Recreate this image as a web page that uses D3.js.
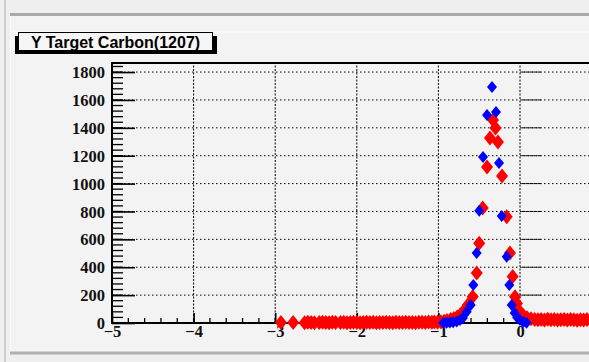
<!DOCTYPE html>
<html><head><meta charset="utf-8">
<script src="https://cdn.jsdelivr.net/npm/d3@7"></script>
<style>html,body{margin:0;padding:0;background:#efefef;overflow:hidden}</style>
</head><body><svg id="c" width="589" height="362"></svg>
<script>
const title = "Y Target Carbon(1207)";
const xTickValues = [-5, -4, -3, -2, -1, 0];
const yTickValues = [0, 200, 400, 600, 800, 1000, 1200, 1400, 1600, 1800];

// red series: left tail, peak, right tail
const redLeftX = [-2.93,-2.78,-2.64,-2.60,-2.56,-2.52,-2.46,-2.42,-2.38,-2.34,-2.30,-2.26,-2.20,-2.16,-2.12,-2.08,-2.04,-2.00,-1.96,-1.92,-1.88,-1.84,-1.80,-1.76,-1.72,-1.68,-1.64,-1.60,-1.56,-1.52,-1.48,-1.44,-1.40,-1.36,-1.32,-1.28,-1.24,-1.20,-1.16,-1.12,-1.08,-1.05];
const redLeftY = [3,4,2,5,3,2,4,6,3,2,5,4,3,6,2,4,5,3,2,4,6,3,5,2,4,3,5,4,2,6,3,4,5,3,4,2,5,6,4,7,5,8];
const redPeakX = [-1.01,-0.97,-0.93,-0.895,-0.85,-0.81,-0.77,-0.73,-0.70,-0.64,-0.58,-0.53,-0.50,-0.457,-0.404,-0.368,-0.331,-0.30,-0.27,-0.22,-0.163,-0.123,-0.09,-0.061,-0.037,0.0,0.037,0.086,0.135];
const redPeakY = [6,9,12,18,25,32,43,60,79,129,189,359,572,825,1119,1327,1456,1399,1298,1054,762,502,333,189,140,80,55,38,30];
const redRightX = [0.18,0.22,0.26,0.30,0.34,0.38,0.42,0.46,0.50,0.54,0.58,0.62,0.66,0.70,0.74,0.78,0.82,0.86];
const redRightY = [26,24,25,22,27,23,25,21,24,26,22,25,23,20,24,22,25,23];

// blue series
const blueX = [-0.94,-0.90,-0.86,-0.82,-0.776,-0.735,-0.70,-0.653,-0.604,-0.572,-0.531,-0.499,-0.453,-0.404,-0.343,-0.294,-0.257,-0.224,-0.163,-0.131,-0.102,-0.065,-0.035,0.0,0.04,0.08];
const blueY = [1,2,3,5,10,22,36,80,129,273,502,805,1190,1492,1693,1514,1148,768,476,273,129,72,40,22,8,2];

const svg = d3.select("#c");
// window decoration
svg.append("rect").attr("x",10).attr("y",16).attr("width",579).attr("height",336).attr("fill","#f3f3f3");
svg.append("line").attr("x1",5).attr("x2",5).attr("y1",0).attr("y2",362).attr("stroke","#cfcfcf").attr("stroke-width",2);
svg.append("line").attr("x1",10.5).attr("x2",10.5).attr("y1",16).attr("y2",352).attr("stroke","#fafafa").attr("stroke-width",1);
svg.append("line").attr("x1",10).attr("x2",589).attr("y1",14.5).attr("y2",14.5).attr("stroke","#a9a9a9").attr("stroke-width",3);
svg.append("line").attr("x1",12).attr("x2",589).attr("y1",32).attr("y2",32).attr("stroke","#ffffff").attr("stroke-width",1);
svg.append("line").attr("x1",10).attr("x2",589).attr("y1",353).attr("y2",353).attr("stroke","#b0b0b0").attr("stroke-width",3);

const x = d3.scaleLinear().domain([-5, 5]).range([112, 928]);
const y = d3.scaleLinear().domain([0, 1865]).range([323, 63]);

const plot = svg.append("g");
// grid
plot.selectAll(".hg").data(yTickValues.filter(d=>d>0)).enter().append("line")
  .attr("x1", x(-5)).attr("x2", 589).attr("y1", d=>y(d)).attr("y2", d=>y(d))
  .attr("stroke","#000").attr("stroke-width",1).attr("stroke-dasharray","1.5,2.5");
plot.selectAll(".hs").data(yTickValues.filter(d=>d>0)).enter().append("line")
  .attr("x1", x(0.02)).attr("x2", x(0.27)).attr("y1", d=>y(d)).attr("y2", d=>y(d))
  .attr("stroke","#000").attr("stroke-width",1).attr("stroke-dasharray","3,1");
plot.selectAll(".vg").data(xTickValues.filter(d=>d>-5)).enter().append("line")
  .attr("x1", d=>x(d)).attr("x2", d=>x(d)).attr("y1", y(0)).attr("y2", 63)
  .attr("stroke","#000").attr("stroke-width",1).attr("stroke-dasharray","2,1.5");

const labelFont = "'Liberation Serif', 'DejaVu Serif', 'Times New Roman', serif";
// axes
const yAxis = d3.axisLeft(y).tickValues(yTickValues).tickSize(-23).tickFormat(d3.format("d")).tickPadding(30);
const yMinor = d3.range(0, 1865, 40);
const yg = plot.append("g").attr("transform",`translate(${x(-5)},0)`);
yg.selectAll(".mn").data(yMinor).enter().append("line")
  .attr("x1",0).attr("x2",11).attr("y1",d=>y(d)).attr("y2",d=>y(d)).attr("stroke","#000").attr("stroke-width",1.3);
yg.call(yAxis);
yg.select(".domain").remove();
yg.selectAll(".tick line").attr("stroke","#000").attr("stroke-width",1.6);
yg.selectAll(".tick text").attr("x",-7).attr("dy","0.34em")
  .style("font-family",labelFont).style("font-weight","bold").style("font-size","16.5px").attr("fill","#111");

const xg = plot.append("g").attr("transform",`translate(0,${y(0)})`);
const xMinor = d3.range(-5, 0.85, 0.2);
xg.selectAll(".mn").data(xMinor).enter().append("line")
  .attr("x1",d=>x(d)).attr("x2",d=>x(d)).attr("y1",0).attr("y2",-5).attr("stroke","#000").attr("stroke-width",1.3);
const xAxis = d3.axisBottom(x).tickValues(xTickValues).tickSize(-10).tickPadding(3)
  .tickFormat(d => d < 0 ? "\u2212" + Math.abs(d) : String(d));
xg.call(xAxis);
xg.select(".domain").remove();
xg.selectAll(".tick line").attr("stroke","#000").attr("stroke-width",1.6);
xg.selectAll(".tick text").attr("y",14).attr("dy","0")
  .style("font-family",labelFont).style("font-weight","bold").style("font-size","16.5px").attr("fill","#111");

// frame lines
plot.append("line").attr("x1",x(-5)).attr("x2",x(-5)).attr("y1",62).attr("y2",y(0)+1).attr("stroke","#000").attr("stroke-width",2);
plot.append("line").attr("x1",x(-5)-1).attr("x2",589).attr("y1",y(0)).attr("y2",y(0)).attr("stroke","#000").attr("stroke-width",2);
plot.append("line").attr("x1",x(-5)-1).attr("x2",589).attr("y1",63).attr("y2",63).attr("stroke","#000").attr("stroke-width",2);

// markers
function diamond(hw, hh){ return `M0,${-hh}L${hw},0L0,${hh}L${-hw},0Z`; }
const redX = redLeftX.concat(redPeakX, redRightX);
const redY = redLeftY.concat(redPeakY, redRightY);
plot.append("g").selectAll("path").data(redX.map((v,i)=>[v, redY[i]])).enter().append("path")
  .attr("d", diamond(6,7.5)).attr("fill","#ff0000")
  .attr("transform", d=>`translate(${x(d[0])},${y(d[1])})`);
plot.append("g").selectAll("path").data(blueX.map((v,i)=>[v, blueY[i]])).enter().append("path")
  .attr("d", diamond(5,6)).attr("fill","#0000ff")
  .attr("transform", d=>`translate(${x(d[0])},${y(d[1])})`);

// title box
svg.append("rect").attr("x",15).attr("y",36).attr("width",202).attr("height",18).attr("fill","#000");
svg.append("rect").attr("x",18.5).attr("y",32.5).attr("width",194).attr("height",18).attr("fill","#f6f6f6").attr("stroke","#000").attr("stroke-width",1);
svg.append("text").attr("x",115.5).attr("y",47.5).attr("text-anchor","middle")
  .style("font-family","'Liberation Sans', Arial, sans-serif").style("font-weight","bold").style("font-size","16px")
  .attr("fill","#000").text(title);
</script></body></html>
